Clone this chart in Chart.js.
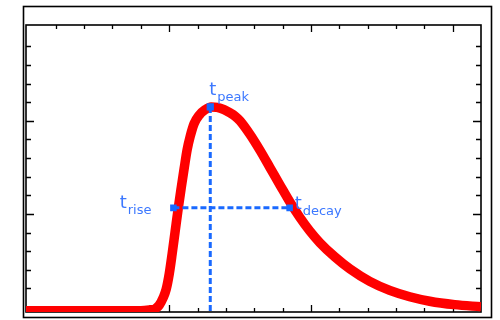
<!DOCTYPE html>
<html>
<head>
<meta charset="utf-8">
<script src="https://cdn.jsdelivr.net/npm/chart.js@4.4.1/dist/chart.umd.min.js"></script>
<style>
  html, body { margin: 0; padding: 0; background: #fff; }
  canvas { display: block; }
</style>
</head>
<body>
<canvas id="pulse" width="500" height="320"></canvas>
<script>
// pulse shape (x in major-tick units)
const times  = [-0.01, 0.80, 0.866, 0.901, 0.930, 0.958, 0.979, 1.000, 1.021, 1.042, 1.063, 1.085, 1.106, 1.127,
                1.148, 1.176, 1.211, 1.254, 1.296, 1.338, 1.387, 1.430, 1.465, 1.500, 1.570, 1.641, 1.711, 1.782,
                1.852, 1.923, 1.993, 2.063, 2.169, 2.275, 2.415, 2.556, 2.697, 2.838, 3.014, 3.20];
const signal = [-0.04, -0.04, -0.03, -0.02, 0.02, 0.10, 0.19, 0.35, 0.57, 0.81, 1.05, 1.28, 1.49, 1.69,
                1.83, 1.97, 2.06, 2.12, 2.15, 2.145, 2.12, 2.085, 2.05, 2.0, 1.855, 1.683, 1.498, 1.31,
                1.127, 0.96, 0.815, 0.691, 0.538, 0.409, 0.275, 0.178, 0.11, 0.062, 0.025, 0.002];

// marker times and levels
const markerNames = ["rise", "peak", "decay"];
const tRise = 1.03;
const tPeak = 1.29;
const tDecay = 1.85;
const peakLevel = 2.15;
const halfLevel = 1.065;

// axis ranges (no tick labels in the picture)
const xMin = -0.01, xMax = 3.2, xStep = 0.2;
const yMin = -0.054, yMax = 3.03, yStep = 0.2;

const blue = "rgb(25, 105, 255)";
const textBlue = "rgb(60, 120, 255)";

function isMajor(v) {
  return Math.abs(v - Math.round(v)) < 1e-6;
}

const frame = {
  id: "frame",
  beforeDatasetsDraw(chart) {
    const c = chart.ctx, a = chart.chartArea;
    const xs = chart.scales.x, ys = chart.scales.y;
    c.save();
    c.strokeStyle = "#000";
    c.lineWidth = 1.6;
    c.strokeRect(23.5, 6.5, 468, 311);
    c.strokeRect(a.left, a.top, a.right - a.left, a.bottom - a.top);
    c.lineWidth = 1.3;
    c.beginPath();
    xs.ticks.forEach(function (t) {
      const px = Math.round(xs.getPixelForValue(t.value)) + 0.5;
      if (px < a.left + 3 || px > a.right - 3) return;
      const len = isMajor(t.value) ? 7 : 4;
      c.moveTo(px, a.bottom); c.lineTo(px, a.bottom - len);
      c.moveTo(px, a.top); c.lineTo(px, a.top + len);
    });
    ys.ticks.forEach(function (t) {
      const py = Math.round(ys.getPixelForValue(t.value)) + 0.5;
      if (py < a.top + 3 || py > a.bottom - 3) return;
      const len = isMajor(t.value) ? 8 : 5;
      c.moveTo(a.left, py); c.lineTo(a.left + len, py);
      c.moveTo(a.right, py); c.lineTo(a.right - len, py);
    });
    c.stroke();
    c.restore();
  },
  afterDatasetsDraw(chart) {
    const c = chart.ctx;
    const xs = chart.scales.x, ys = chart.scales.y;
    const mainFont = '18px "DejaVu Sans"';
    const subFont = '13px "DejaVu Sans"';
    function label(sub, x, y, alignRight) {
      c.font = mainFont;
      const wT = c.measureText("t").width;
      c.font = subFont;
      const wS = c.measureText(sub).width;
      const left = alignRight ? x - wT - wS - 1 : x;
      c.font = mainFont;
      c.fillText("t", left, y);
      c.font = subFont;
      c.fillText(sub, left + wT + 1, y + 6);
    }
    c.save();
    c.fillStyle = textBlue;
    c.textBaseline = "alphabetic";
    label(markerNames[0], xs.getPixelForValue(tRise) - 22, ys.getPixelForValue(halfLevel), true);
    label(markerNames[1], xs.getPixelForValue(tPeak) - 1, ys.getPixelForValue(peakLevel) - 12, false);
    label(markerNames[2], xs.getPixelForValue(tDecay) + 5, ys.getPixelForValue(halfLevel) + 1, false);
    c.restore();
  }
};

const ctx = document.getElementById("pulse");
const pulseChart = new Chart(ctx, {
  type: "line",
  data: {
    datasets: [
      {
        label: "pulse",
        data: times.map(function (t, i) { return { x: t, y: signal[i] }; }),
        borderColor: "#ff0000",
        borderWidth: 9.5,
        pointRadius: 0,
        cubicInterpolationMode: "monotone",
        clip: 0,
        order: 2
      },
      {
        label: "peak",
        data: [{ x: tPeak, y: peakLevel }, { x: tPeak, y: yMin }],
        borderColor: blue,
        backgroundColor: blue,
        borderWidth: 3,
        borderDash: [6, 3],
        pointStyle: "rect",
        pointRadius: [3, 0],
        clip: 0,
        order: 1
      },
      {
        label: "width",
        data: [{ x: tRise, y: halfLevel }, { x: tDecay, y: halfLevel }],
        borderColor: blue,
        backgroundColor: blue,
        borderWidth: 3,
        borderDash: [6, 3],
        pointStyle: "rect",
        pointRadius: 2.5,
        clip: 0,
        order: 1
      }
    ]
  },
  options: {
    responsive: false,
    animation: false,
    layout: { padding: { left: 26, top: 25, right: 19, bottom: 8 } },
    plugins: { legend: { display: false }, tooltip: { enabled: false } },
    scales: {
      x: { type: "linear", display: false, min: xMin, max: xMax, ticks: { stepSize: xStep } },
      y: { type: "linear", display: false, min: yMin, max: yMax, ticks: { stepSize: yStep } }
    }
  },
  plugins: [frame]
});
</script>
</body>
</html>
